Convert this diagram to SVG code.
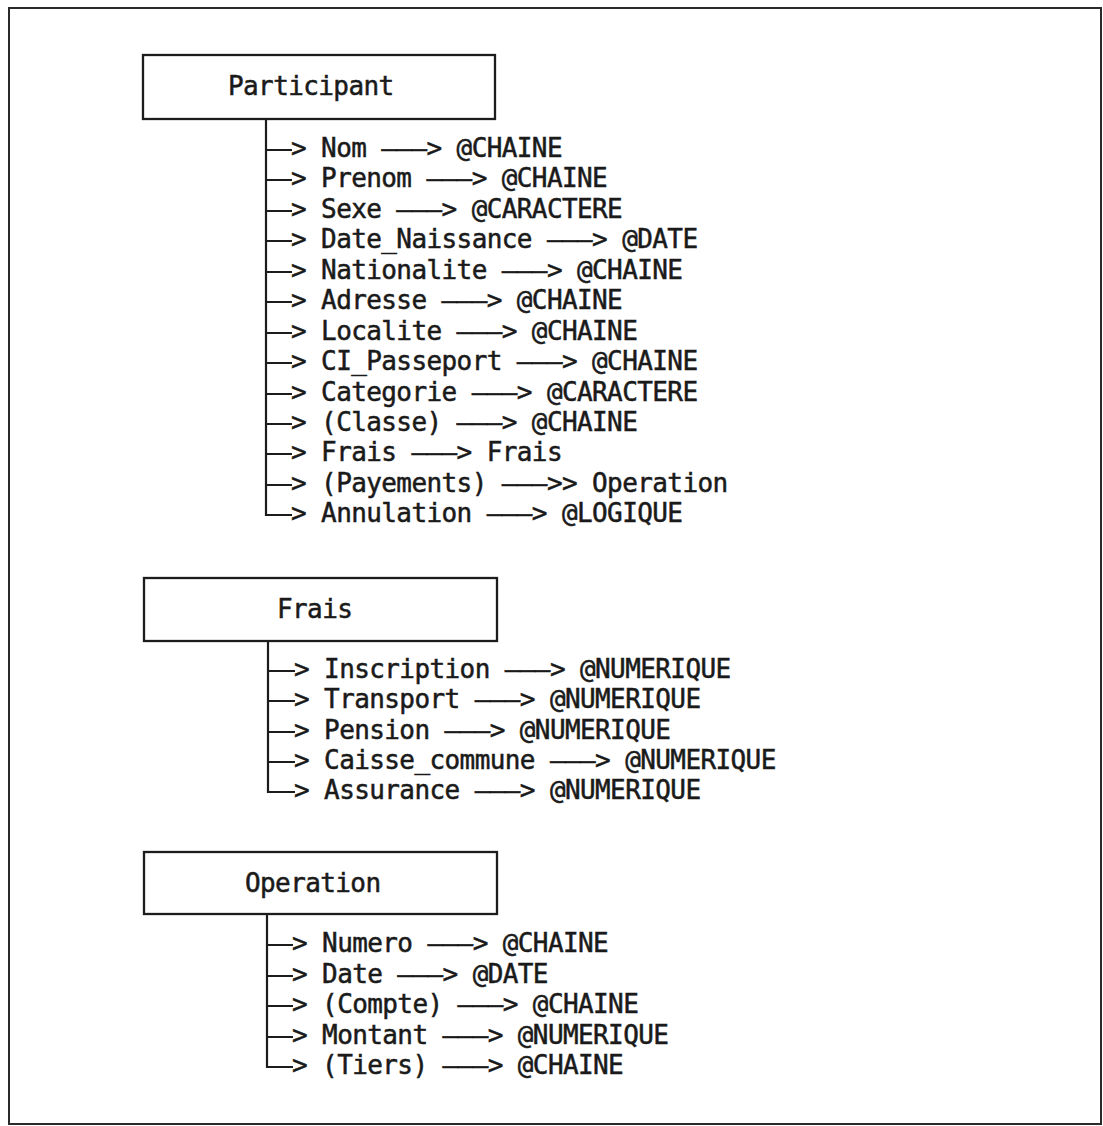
<svg xmlns="http://www.w3.org/2000/svg" width="1103" height="1126" viewBox="0 0 1103 1126">
<style>
.frame{fill:#fff;stroke:#2a2a2a;stroke-width:2}
.box{fill:#fff;stroke:#1c1c1c;stroke-width:2.3}
.t{font-family:"DejaVu Sans Mono","Liberation Mono",monospace;font-size:26px;letter-spacing:-0.6px;fill:#1a1a1a;stroke:#1a1a1a;stroke-width:0.5}
.c{fill:none;stroke:#1c1c1c;stroke-width:2.2}
</style>
<rect class="frame" x="9" y="8" width="1092" height="1116"/>

<g id="participant">
<rect class="box" x="143" y="55" width="352" height="64"/>
<text class="t" x="228" y="95">Participant</text>
<text class="t" x="291" y="157">&gt; Nom ———&gt; @CHAINE</text>
<text class="t" x="291" y="187">&gt; Prenom ———&gt; @CHAINE</text>
<text class="t" x="291" y="218">&gt; Sexe ———&gt; @CARACTERE</text>
<text class="t" x="291" y="248">&gt; Date_Naissance ———&gt; @DATE</text>
<text class="t" x="291" y="279">&gt; Nationalite ———&gt; @CHAINE</text>
<text class="t" x="291" y="309">&gt; Adresse ———&gt; @CHAINE</text>
<text class="t" x="291" y="340">&gt; Localite ———&gt; @CHAINE</text>
<text class="t" x="291" y="370">&gt; CI_Passeport ———&gt; @CHAINE</text>
<text class="t" x="291" y="401">&gt; Categorie ———&gt; @CARACTERE</text>
<text class="t" x="291" y="431">&gt; (Classe) ———&gt; @CHAINE</text>
<text class="t" x="291" y="461">&gt; Frais ———&gt; Frais</text>
<text class="t" x="291" y="492">&gt; (Payements) ———&gt;&gt; Operation</text>
<text class="t" x="291" y="522">&gt; Annulation ———&gt; @LOGIQUE</text>
</g>

<g id="frais">
<rect class="box" x="144" y="578" width="353" height="63"/>
<text class="t" x="277" y="618">Frais</text>
<text class="t" x="294" y="678">&gt; Inscription ———&gt; @NUMERIQUE</text>
<text class="t" x="294" y="708">&gt; Transport ———&gt; @NUMERIQUE</text>
<text class="t" x="294" y="739">&gt; Pension ———&gt; @NUMERIQUE</text>
<text class="t" x="294" y="769">&gt; Caisse_commune ———&gt; @NUMERIQUE</text>
<text class="t" x="294" y="799">&gt; Assurance ———&gt; @NUMERIQUE</text>
</g>

<g id="operation">
<rect class="box" x="144" y="852" width="353" height="62"/>
<text class="t" x="245" y="892">Operation</text>
<text class="t" x="292" y="952">&gt; Numero ———&gt; @CHAINE</text>
<text class="t" x="292" y="983">&gt; Date ———&gt; @DATE</text>
<text class="t" x="292" y="1013">&gt; (Compte) ———&gt; @CHAINE</text>
<text class="t" x="292" y="1044">&gt; Montant ———&gt; @NUMERIQUE</text>
<text class="t" x="292" y="1074">&gt; (Tiers) ———&gt; @CHAINE</text>
</g>

<g id="connectors">
<path class="c" d="M266,119 V515 H292"/>
<path class="c" d="M266,150 H292 M266,180 H292 M266,211 H292 M266,241 H292 M266,272 H292 M266,302 H292 M266,333 H292 M266,363 H292 M266,394 H292 M266,424 H292 M266,454 H292 M266,485 H292"/>
<path class="c" d="M268,641 V792 H295"/>
<path class="c" d="M268,671 H295 M268,701 H295 M268,732 H295 M268,762 H295"/>
<path class="c" d="M267,914 V1067 H293"/>
<path class="c" d="M267,945 H293 M267,976 H293 M267,1006 H293 M267,1037 H293"/>
</g>
</svg>
